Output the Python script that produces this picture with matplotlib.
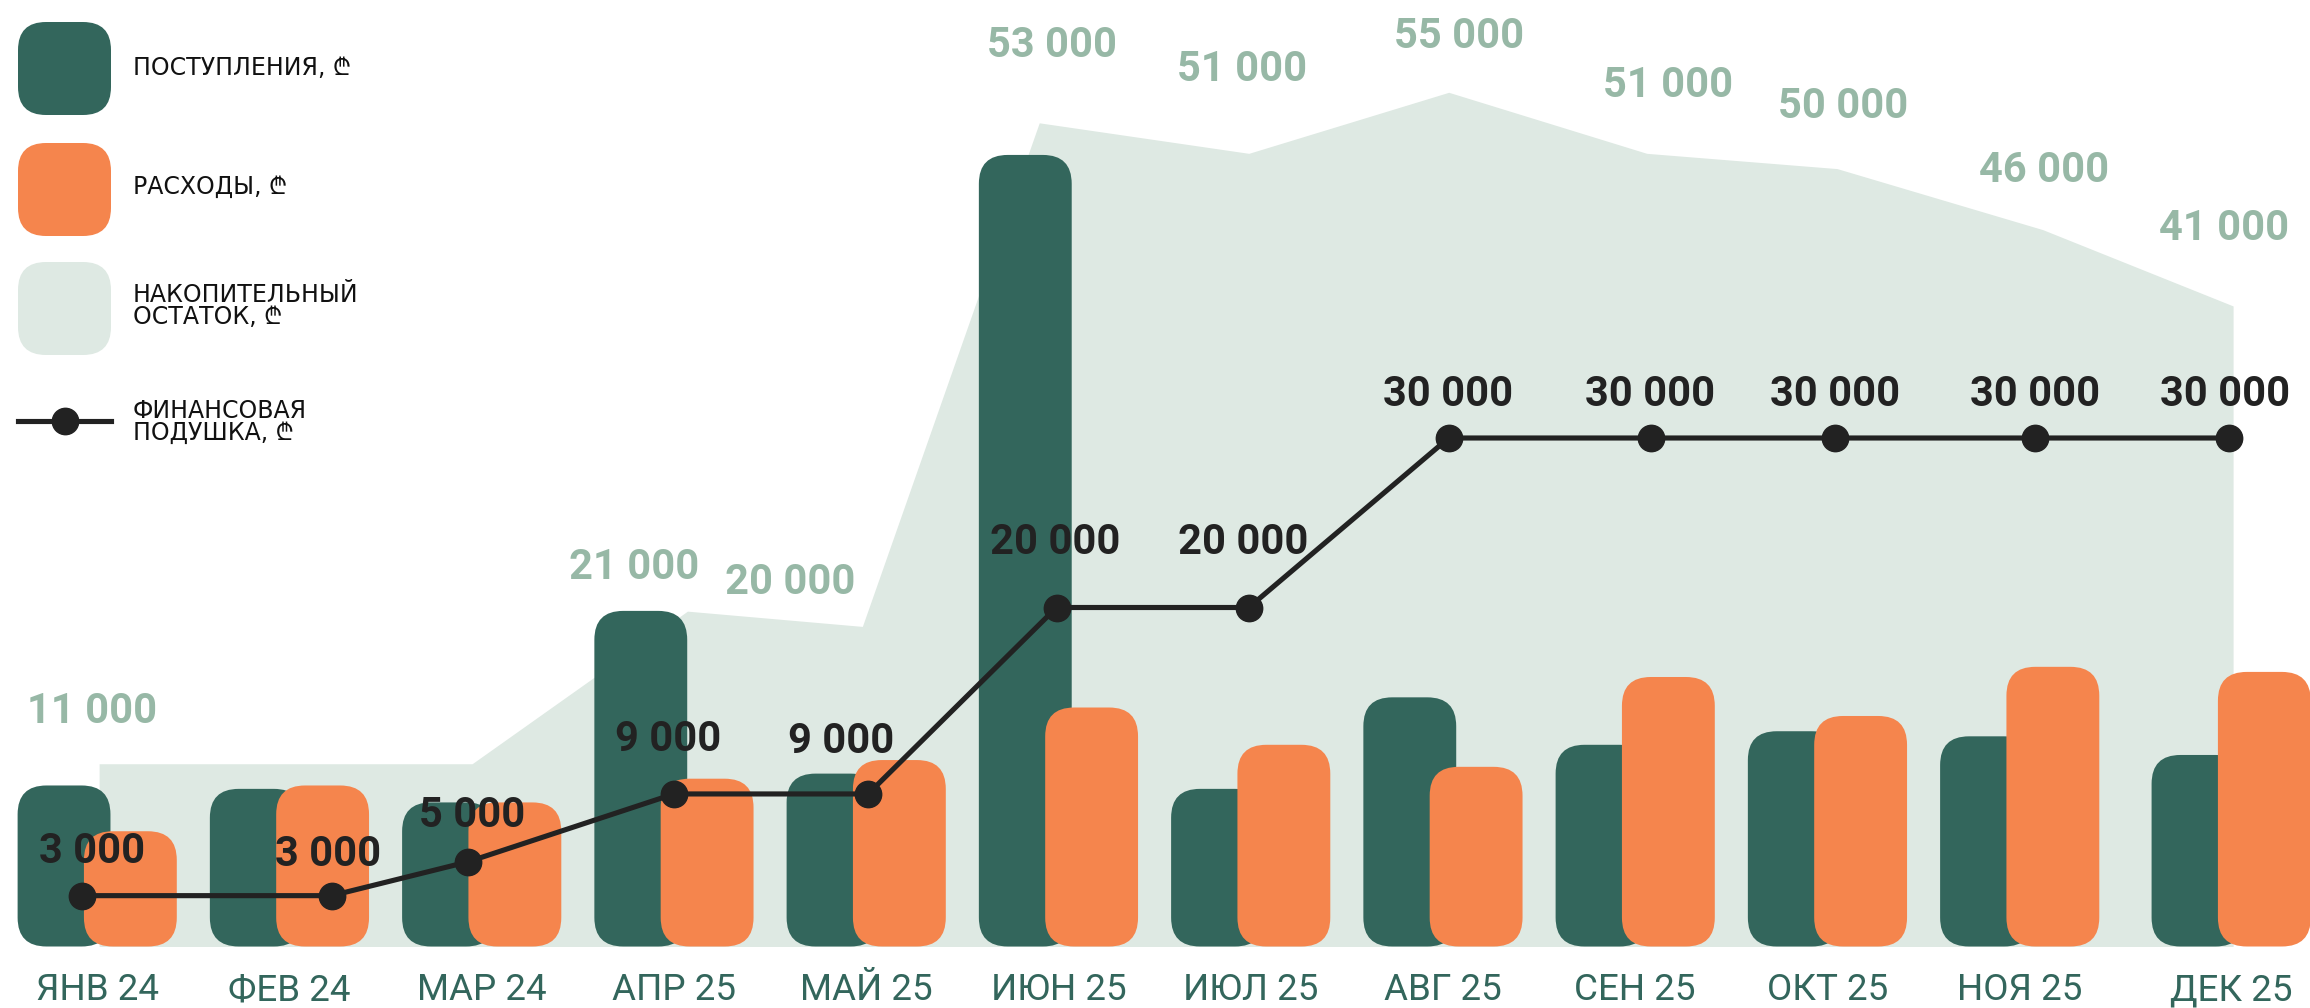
import matplotlib.pyplot as plt
from matplotlib.patches import FancyBboxPatch
import numpy as np

# Данные
months = ['ЯНВ 24', 'ФЕВ 24', 'МАР 24', 'АПР 25', 'МАЙ 25', 'ИЮН 25',
          'ИЮЛ 25', 'АВГ 25', 'СЕН 25', 'ОКТ 25', 'НОЯ 25', 'ДЕК 25']
income = [9500, 9300, 8500, 19800, 10200, 46700, 9300, 14700, 11900, 12700, 12400, 11300]
expense = [6800, 9500, 8500, 9900, 11000, 14100, 11900, 10600, 15900, 13600, 16500, 16200]
balance = [11000, 11000, 11000, 21000, 20000, 53000, 51000, 55000, 51000, 50000, 46000, 41000]
cushion = [3000, 3000, 5000, 9000, 9000, 20000, 20000, 30000, 30000, 30000, 30000, 30000]
balance_labels = ['11 000', '', '', '21 000', '20 000', '53 000', '51 000',
                  '55 000', '51 000', '50 000', '46 000', '41 000']
cushion_labels = ['3 000', '3 000', '5 000', '9 000', '9 000', '20 000', '20 000',
                  '30 000', '30 000', '30 000', '30 000', '30 000']

# Цвета
c_in = '#33665c'
c_out = '#f5854d'
c_area = '#dee9e3'
c_area_txt = '#97b8a6'
c_line = '#222222'

W, H = 2310, 1008
fig = plt.figure(figsize=(W / 100, H / 100), dpi=100)

# позиции групп (последняя чуть сдвинута, как в макете)
x = np.arange(len(months), dtype=float)
x[-1] += 0.1
line_x = x + np.array([-0.08, 0.22, -0.07, 0.0, 0.01, -0.01, -0.01, 0.03, 0.08, 0.04, 0.08, -0.01])
area_x = x + np.array([0.01, 0.0, -0.05, 0.07, -0.02, -0.10, -0.01, 0.03, 0.06, 0.05, 0.12, 0.01])

base_px = 946.5
px_x = 192.25            # пикселей на месяц
px_y = 16.95 / 1000      # пикселей на рубль (столбцы и линия)
x0_px = 97.2

ax = fig.add_axes([0, (H - base_px) / H, 1, base_px / H])
ax.set_xlim(-x0_px / px_x, (W - x0_px) / px_x)
ax.set_ylim(0, base_px / px_y)
ax.axis('off')

# остаток нарисован в своём масштабе
area_lo = -976
ax_area = ax.twinx()
ax_area.set_ylim(area_lo, 61048)
ax_area.axis('off')
ax_area.set_zorder(0)
ax.set_zorder(1)
ax.patch.set_visible(False)

# накопительный остаток
ax_area.fill_between(area_x, balance, area_lo, color=c_area, lw=0)
area_dx = [-7, 0, 0, -53, -72, 13, -7, 10, 21, 6, 1, -9]
area_dy = [52, 0, 0, 44, 44, 77, 84, 56, 68, 62, 59, 77]
for i, t in enumerate(balance_labels):
    if t:
        ax_area.annotate(t, (area_x[i], balance[i]), xytext=(area_dx[i], area_dy[i]),
                         textcoords='offset pixels', ha='center', va='center',
                         fontsize=30, fontweight='bold', family='Roboto', color=c_area_txt)

# столбцы
bw = 0.483
shift = 0.1725
aspect = px_x / px_y
for i in range(len(months)):
    for xc, v, c in [(x[i] - shift, income[i], c_in), (x[i] + shift, expense[i], c_out)]:
        ax.add_patch(FancyBboxPatch((xc - bw / 2, 0), bw, v,
                                    boxstyle='round,pad=0,rounding_size=0.15',
                                    mutation_aspect=aspect, fc=c, ec='none', zorder=2))

# финансовая подушка
ax.plot(line_x, cushion, color=c_line, lw=3.7, marker='o', ms=19, zorder=3)
lab_dx = [10, -4, 4, -6, -27, -1, -6, -1, -1, 0, 0, -4]
lab_dy = [44, 41, 46, 54, 52, 65, 65, 44, 44, 44, 44, 44]
for i, t in enumerate(cushion_labels):
    ax.annotate(t, (line_x[i], cushion[i]), xytext=(lab_dx[i], lab_dy[i]),
                textcoords='offset pixels', ha='center', va='center',
                fontsize=30, fontweight='bold', family='Roboto', color=c_line, zorder=4)

# подписи месяцев
for i, m in enumerate(months):
    ax.annotate(m, (x[i], 0), xytext=(0, -44), textcoords='offset pixels',
                ha='center', va='center', fontsize=26.5, family='Roboto',
                color=c_in, annotation_clip=False)

# легенда
lg = fig.add_axes([0, 0, 1, 1])
lg.set_xlim(0, W)
lg.set_ylim(H, 0)
lg.axis('off')
lg.patch.set_visible(False)
for y, c in [(22, c_in), (143, c_out), (262, c_area)]:
    lg.add_patch(FancyBboxPatch((18, y), 93, 93, boxstyle='round,pad=0,rounding_size=28',
                                fc=c, ec='none'))
lg.plot([18, 111], [421, 421], color=c_line, lw=3.7)
lg.plot([65], [421], 'o', color=c_line, ms=19)
fam = ['DejaVu Sans', 'Noto Sans']
kw = dict(va='center', fontsize=17, family=fam, linespacing=0.85, color='#111111')
lg.text(133, 68, 'ПОСТУПЛЕНИЯ, ₾', **kw)
lg.text(133, 187, 'РАСХОДЫ, ₾', **kw)
lg.text(133, 306, 'НАКОПИТЕЛЬНЫЙ\nОСТАТОК, ₾', **kw)
lg.text(133, 422, 'ФИНАНСОВАЯ\nПОДУШКА, ₾', **kw)

fig.savefig('out.png', dpi=100)
